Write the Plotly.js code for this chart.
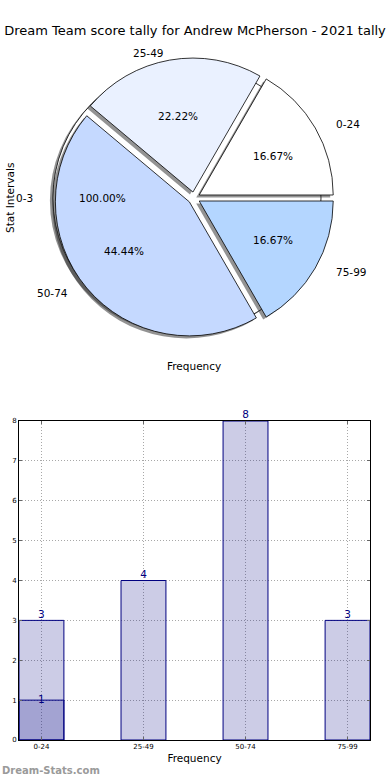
<!DOCTYPE html>
<html>
<head>
<meta charset="utf-8">
<script src="https://cdn.plot.ly/plotly-3.0.1.min.js"></script>
<style>html,body{margin:0;padding:0;background:#fff;}#chart{width:390px;height:780px;}</style>
</head>
<body>
<div id="chart"></div>
<script>
// ---- data ----
const categories = ['0-24', '25-49', '50-74', '75-99'];
const counts = [3, 4, 8, 3];
const subCategories = ['0-24'];
const subCounts = [1];
const outerLabels = ['0-3'];
const outerValues = [1];
const sliceColors = ['#ffffff', '#eaf1ff', '#c5d9ff', '#b4d6ff'];
const titleText = 'Dream Team score tally for Andrew McPherson - 2021 tally';

// ---- layout helpers (pixels) ----
const W = 390, H = 780;
const FONT = 'DejaVu Sans, sans-serif';
const cx = 194, cy = 198;           // pie centre
const R = 134;                      // pie radius
const rxT = 141, ryT = 128;         // text ellipse (reference aspect)
const explode = 0.05;
const pullFrac = 0.045;
const shadowDx = -3, shadowDy = 2.5;

function domainFor(x, y, r, pull) {
  const half = r * (1 + pull);
  return {x: [(x - half) / W, (x + half) / W], y: [1 - (y + half) / H, 1 - (y - half) / H]};
}
const px = x => x / W;
const py = y => 1 - y / H;

const total = counts.reduce((a, b) => a + b, 0);
// Plotly counterclockwise: first slice lies clockwise of the rotation line,
// so rotation = clock angle of the first slice's counterclockwise edge.
const firstSliceDeg = counts[0] / total * 360;
const pieRotation = 90 - firstSliceDeg;

const annotations = [];
let cum = 0;
counts.forEach((v, i) => {
  const mid = (cum + v / 2) / total * 2 * Math.PI;
  cum += v;
  const c = Math.cos(mid), s = Math.sin(mid);
  annotations.push({
    text: categories[i], showarrow: false, xref: 'paper', yref: 'paper',
    x: px(cx + (1.1 + explode) * rxT * c), y: py(cy - (1.1 + explode) * ryT * s),
    xanchor: c >= 0 ? 'left' : 'right', yanchor: 'middle',
    font: {family: FONT, size: 10.5, color: '#000'}
  });
  annotations.push({
    text: (v / total * 100).toFixed(2) + '%', showarrow: false, xref: 'paper', yref: 'paper',
    x: px(cx + (0.6 + explode) * rxT * c), y: py(cy - (0.6 + explode) * ryT * s),
    xanchor: 'center', yanchor: 'middle',
    font: {family: FONT, size: 10.5, color: '#000'}
  });
});
const oTotal = outerValues.reduce((a, b) => a + b, 0);
annotations.push({
  text: outerLabels[0], showarrow: false, xref: 'paper', yref: 'paper',
  x: px(cx + 3 - (1.1 + explode) * rxT), y: py(cy), xanchor: 'right', yanchor: 'middle',
  font: {family: FONT, size: 10.5, color: '#000'}
});
annotations.push({
  text: (outerValues[0] / oTotal * 100).toFixed(2) + '%', showarrow: false, xref: 'paper', yref: 'paper',
  x: px(cx - (0.6 + explode) * rxT), y: py(cy), xanchor: 'center', yanchor: 'middle',
  font: {family: FONT, size: 10.5, color: '#000'}
});
annotations.push({
  text: 'Frequency', showarrow: false, xref: 'paper', yref: 'paper',
  x: px(194), y: py(366), xanchor: 'center', yanchor: 'middle',
  font: {family: FONT, size: 10.5, color: '#000'}
});
annotations.push({
  text: 'Stat Intervals', showarrow: false, xref: 'paper', yref: 'paper', textangle: -90,
  x: px(10), y: py(198), xanchor: 'center', yanchor: 'middle',
  font: {family: FONT, size: 10.5, color: '#000'}
});
annotations.push({
  text: '<b>Dream-Stats.com</b>', showarrow: false, xref: 'paper', yref: 'paper',
  x: px(0), y: py(770), xanchor: 'left', yanchor: 'middle',
  font: {family: FONT, size: 10, color: '#9a9a9a'}
});

const oCx = cx - explode * rxT;

const traces = [
  {type: 'pie', values: outerValues, labels: outerLabels, sort: false,
   domain: domainFor(oCx + shadowDx, cy + shadowDy, R, 0),
   marker: {colors: ['rgba(40,40,40,0.5)'], line: {width: 0}},
   textinfo: 'none', hoverinfo: 'none', showlegend: false},
  {type: 'pie', values: outerValues, labels: outerLabels, sort: false,
   domain: domainFor(oCx, cy, R, 0),
   marker: {colors: ['#ffffff'], line: {color: '#000', width: 0.8}},
   textinfo: 'none', hoverinfo: 'none', showlegend: false},
  {type: 'pie', values: counts, labels: categories, sort: false,
   direction: 'counterclockwise', rotation: pieRotation,
   pull: counts.map(() => pullFrac),
   domain: domainFor(cx + shadowDx, cy + shadowDy, R, pullFrac),
   marker: {colors: counts.map(() => 'rgba(40,40,40,0.5)'), line: {width: 0}},
   textinfo: 'none', hoverinfo: 'none', showlegend: false},
  {type: 'pie', values: counts, labels: categories, sort: false,
   direction: 'counterclockwise', rotation: pieRotation,
   pull: counts.map(() => pullFrac),
   domain: domainFor(cx, cy, R, pullFrac),
   marker: {colors: sliceColors, line: {color: '#000', width: 0.8}},
   textinfo: 'none', hoverinfo: 'none', showlegend: false},
  {type: 'bar', x: categories, y: counts, width: 0.44,
   marker: {color: 'rgba(0,0,128,0.2)', line: {color: '#000080', width: 1}},
   hoverinfo: 'none', showlegend: false},
  {type: 'bar', x: subCategories, y: subCounts, width: 0.44,
   marker: {color: 'rgba(0,0,128,0.2)', line: {color: '#000080', width: 1}},
   hoverinfo: 'none', showlegend: false},
  {type: 'scatter', mode: 'text', x: categories, y: counts, text: counts.map(String),
   textposition: 'top center', cliponaxis: false,
   textfont: {family: FONT, size: 10.5, color: '#000080'}, hoverinfo: 'none', showlegend: false},
  {type: 'scatter', mode: 'text', x: subCategories, y: subCounts, text: subCounts.map(String),
   textposition: 'middle center', cliponaxis: false,
   textfont: {family: FONT, size: 10.5, color: '#000080'}, hoverinfo: 'none', showlegend: false}
];

const axisCommon = {
  showline: true, mirror: 'ticks', linecolor: '#000', linewidth: 1,
  ticks: 'inside', ticklen: 3, tickcolor: '#666',
  showgrid: true, gridcolor: '#a8a8a8', griddash: '1px,2px', gridwidth: 1,
  zeroline: false, tickfont: {family: FONT, size: 7, color: '#000'}
};

const layout = {
  width: W, height: H,
  margin: {l: 0, r: 0, t: 0, b: 0},
  paper_bgcolor: '#fff', plot_bgcolor: '#fff',
  title: {text: titleText, x: 0.5, xanchor: 'center', y: 1 - 30 / H, yanchor: 'middle', yref: 'container',
          font: {family: FONT, size: 13, color: '#000'}},
  barmode: 'overlay',
  showlegend: false,
  xaxis: Object.assign({}, axisCommon, {
    domain: [19 / W, 370 / W], type: 'category', categoryorder: 'array', categoryarray: categories,
    range: [-0.22, 3.22], fixedrange: true,
    title: {text: 'Frequency', standoff: 4, font: {family: FONT, size: 10.5, color: '#000'}}
  }),
  yaxis: Object.assign({}, axisCommon, {
    domain: [1 - 740 / H, 1 - 421 / H], range: [0, 8], dtick: 1, fixedrange: true
  }),
  annotations: annotations
};

Plotly.newPlot('chart', traces, layout, {staticPlot: true, displayModeBar: false});
</script>
</body>
</html>
